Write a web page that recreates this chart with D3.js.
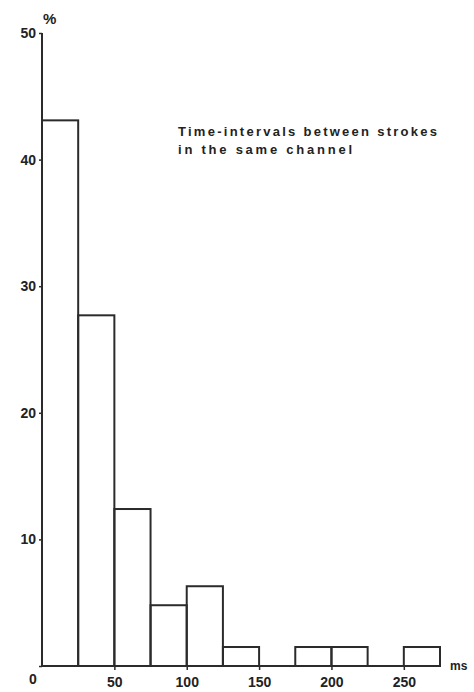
<!DOCTYPE html>
<html><head><meta charset="utf-8">
<script src="https://cdn.jsdelivr.net/npm/d3@7"></script>
<style>body{margin:0;background:#fff}</style>
</head><body>
<svg id="c" width="474" height="692"></svg>
<script>
const binStarts = [0,25,50,75,100,125,150,175,200,225,250];
const binWidth = 25;
const percents = [43.1,27.7,12.4,4.8,6.3,1.5,0,1.5,1.5,0,1.5];
const xTicks = [0,50,100,150,200,250];
const yTicks = [0,10,20,30,40,50];
const title = ["Time-intervals between strokes","in the same channel"];

const svg = d3.select("#c");
const col = "#2b2b2b";
const x = d3.scaleLinear().domain([0,275]).range([42,440]);
const y = d3.scaleLinear().domain([0,50]).range([666,33]);
const font = "'Liberation Sans', Arial, sans-serif";

// bars
const data = binStarts.map((s,i)=>({s, v: percents[i]})).filter(d=>d.v>0);
svg.append("g").selectAll("rect").data(data).join("rect")
  .attr("x", d=>x(d.s)).attr("width", d=>x(d.s+binWidth)-x(d.s))
  .attr("y", d=>y(d.v)).attr("height", d=>y(0)-y(d.v))
  .attr("fill","none").attr("stroke",col).attr("stroke-width",2);

// baseline
svg.append("line").attr("x1",x(0)).attr("x2",x(275)).attr("y1",y(0)).attr("y2",y(0))
  .attr("stroke",col).attr("stroke-width",2);

// y axis
const ya = svg.append("g").attr("transform",`translate(${x(0)},0)`)
  .call(d3.axisLeft(y).tickValues(yTicks).tickSize(3).tickPadding(3).tickFormat(d=>d===0?"":d));
ya.select(".domain").attr("stroke",col).attr("stroke-width",2).attr("d",`M-0,${y(0)}V${y(50)}`);
ya.selectAll(".tick line").attr("stroke",col).attr("stroke-width",1.5);
ya.selectAll(".tick text").attr("fill","#222").style("font-family",font).style("font-size","14px").style("font-weight","bold");

// x axis
const xa = svg.append("g").attr("transform",`translate(0,${y(0)})`)
  .call(d3.axisBottom(x).tickValues(xTicks.filter(d=>d>0)).tickSize(4).tickPadding(7));
xa.select(".domain").remove();
xa.selectAll(".tick line").attr("stroke",col).attr("stroke-width",1.5);
xa.selectAll(".tick text").attr("fill","#222").style("font-family",font).style("font-size","14px").style("font-weight","bold");

// origin label
svg.append("text").attr("x",33).attr("y",684).attr("text-anchor","middle")
  .attr("fill","#222").style("font-family",font).style("font-size","14px").style("font-weight","bold").text("0");

// unit labels
svg.append("text").attr("x",43).attr("y",24).attr("fill","#222")
  .style("font-family",font).style("font-size","15px").style("font-weight","bold").text("%");
svg.append("text").attr("x",450).attr("y",670).attr("fill","#222")
  .style("font-family",font).style("font-size","12px").style("font-weight","bold").text("ms");

// title
title.forEach((t,i)=>{
  svg.append("text").attr("x",178).attr("y",136+i*18).attr("fill","#222")
    .style("font-family",font).style("font-size","13px").style("font-weight","bold")
    .attr("textLength", i===0?259:174).attr("lengthAdjust","spacing").text(t);
});
</script>
</body></html>
